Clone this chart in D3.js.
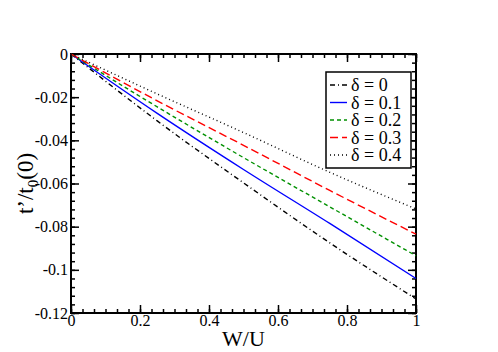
<!DOCTYPE html>
<html>
<head>
<meta charset="utf-8">
<script src="https://cdn.jsdelivr.net/npm/d3@7"></script>
<style>
  body { margin: 0; background: #fff; }
</style>
</head>
<body>
<svg id="chart" width="498" height="352"></svg>
<script>
// values
const wu = [0, 0.25, 0.5, 0.75, 1];
const deltas = ['0', '0.1', '0.2', '0.3', '0.4'];
const tRatio = [
  [0, -0.031, -0.0597, -0.0875, -0.1135],
  [0, -0.0275, -0.0535, -0.0785, -0.104],
  [0, -0.0245, -0.048, -0.0708, -0.0935],
  [0, -0.0217, -0.0423, -0.0632, -0.0835],
  [0, -0.0185, -0.0364, -0.0548, -0.0718]
];
const colors = ['#000000', '#0000ff', '#009000', '#ff0000', '#000000'];
const dashes = ['5,3,1,3', null, '4,3', '8,4', '1,3'];
const xTicks = [0, 0.2, 0.4, 0.6, 0.8, 1];
const yTicks = [0, -0.02, -0.04, -0.06, -0.08, -0.1, -0.12];

const FONT = '"Liberation Serif", "Times New Roman", Times, serif';

const svg = d3.select('#chart').attr('font-family', FONT);
const m = { left: 71, right: 416, top: 54, bottom: 313 };

const x = d3.scaleLinear().domain([0, 1]).range([m.left, m.right]);
const y = d3.scaleLinear().domain([-0.12, 0]).range([m.bottom, m.top]);

const xMinor = d3.range(0, 1.0001, 0.2 / 6);
const yMinor = d3.range(-0.12, 0.0001, 0.004);

const fmt = d => d === 0 ? '0' : String(d);

// axes, ticks drawn inside on all four sides
const axes = [
  { ax: d3.axisBottom(x), pos: `translate(0,${m.bottom})`, minor: xMinor, major: xTicks, labels: true, pad: 2 },
  { ax: d3.axisTop(x), pos: `translate(0,${m.top})`, minor: xMinor, major: xTicks, labels: false, pad: 0 },
  { ax: d3.axisLeft(y), pos: `translate(${m.left},0)`, minor: yMinor, major: yTicks, labels: true, pad: 3 },
  { ax: d3.axisRight(y), pos: `translate(${m.right},0)`, minor: yMinor, major: yTicks, labels: false, pad: 0 }
];

axes.forEach(a => {
  const gMin = svg.append('g').attr('transform', a.pos)
    .call(a.ax.tickValues(a.minor).tickSize(-4).tickFormat(''));
  gMin.select('.domain').remove();
  gMin.selectAll('line').attr('stroke-width', 1.5);

  const g = svg.append('g').attr('transform', a.pos)
    .call(a.ax.tickValues(a.major).tickSize(-8).tickPadding(a.pad)
      .tickFormat(a.labels ? fmt : ''));
  g.attr('font-family', FONT);
  g.select('.domain').remove();
  g.selectAll('line').attr('stroke-width', 1.5);
  g.selectAll('text').attr('font-size', 16).attr('fill', '#000');
});

// frame
svg.append('rect')
  .attr('x', m.left).attr('y', m.top)
  .attr('width', m.right - m.left).attr('height', m.bottom - m.top)
  .attr('fill', 'none').attr('stroke', '#000').attr('stroke-width', 2);

// data lines
const line = d3.line()
  .x((d, i) => x(wu[i]))
  .y(d => y(d))
  .curve(d3.curveMonotoneX);

svg.append('g').selectAll('path')
  .data(tRatio)
  .join('path')
  .attr('d', d => line(d))
  .attr('fill', 'none')
  .attr('stroke', (d, i) => colors[i])
  .attr('stroke-width', 1.4)
  .attr('stroke-dasharray', (d, i) => dashes[i]);

// axis titles
svg.append('text')
  .attr('x', (m.left + m.right) / 2).attr('y', 346)
  .attr('text-anchor', 'middle').attr('font-size', 22)
  .text('W/U');

const yt = svg.append('text')
  .attr('transform', `translate(33,${(m.top + m.bottom) / 2}) rotate(-90)`)
  .attr('text-anchor', 'middle').attr('font-size', 23);
yt.append('tspan').text('t’/t');
yt.append('tspan').attr('font-size', 15).attr('dy', 5).text('0');
yt.append('tspan').attr('dy', -5).text('(0)');

// legend
const lg = svg.append('g');
lg.append('rect')
  .attr('x', 326).attr('y', 72).attr('width', 85).attr('height', 96)
  .attr('fill', '#fff').attr('stroke', '#000').attr('stroke-width', 1.5);

const rowY = d3.scaleLinear().domain([0, 4]).range([85, 155]);
deltas.forEach((dl, i) => {
  lg.append('line')
    .attr('x1', 330).attr('x2', 347)
    .attr('y1', rowY(i)).attr('y2', rowY(i))
    .attr('stroke', colors[i]).attr('stroke-width', 1.4)
    .attr('stroke-dasharray', dashes[i]);
  lg.append('text')
    .attr('x', 351).attr('y', rowY(i) + 6)
    .attr('font-size', 18)
    .text(`δ = ${dl}`);
});
</script>
</body>
</html>
